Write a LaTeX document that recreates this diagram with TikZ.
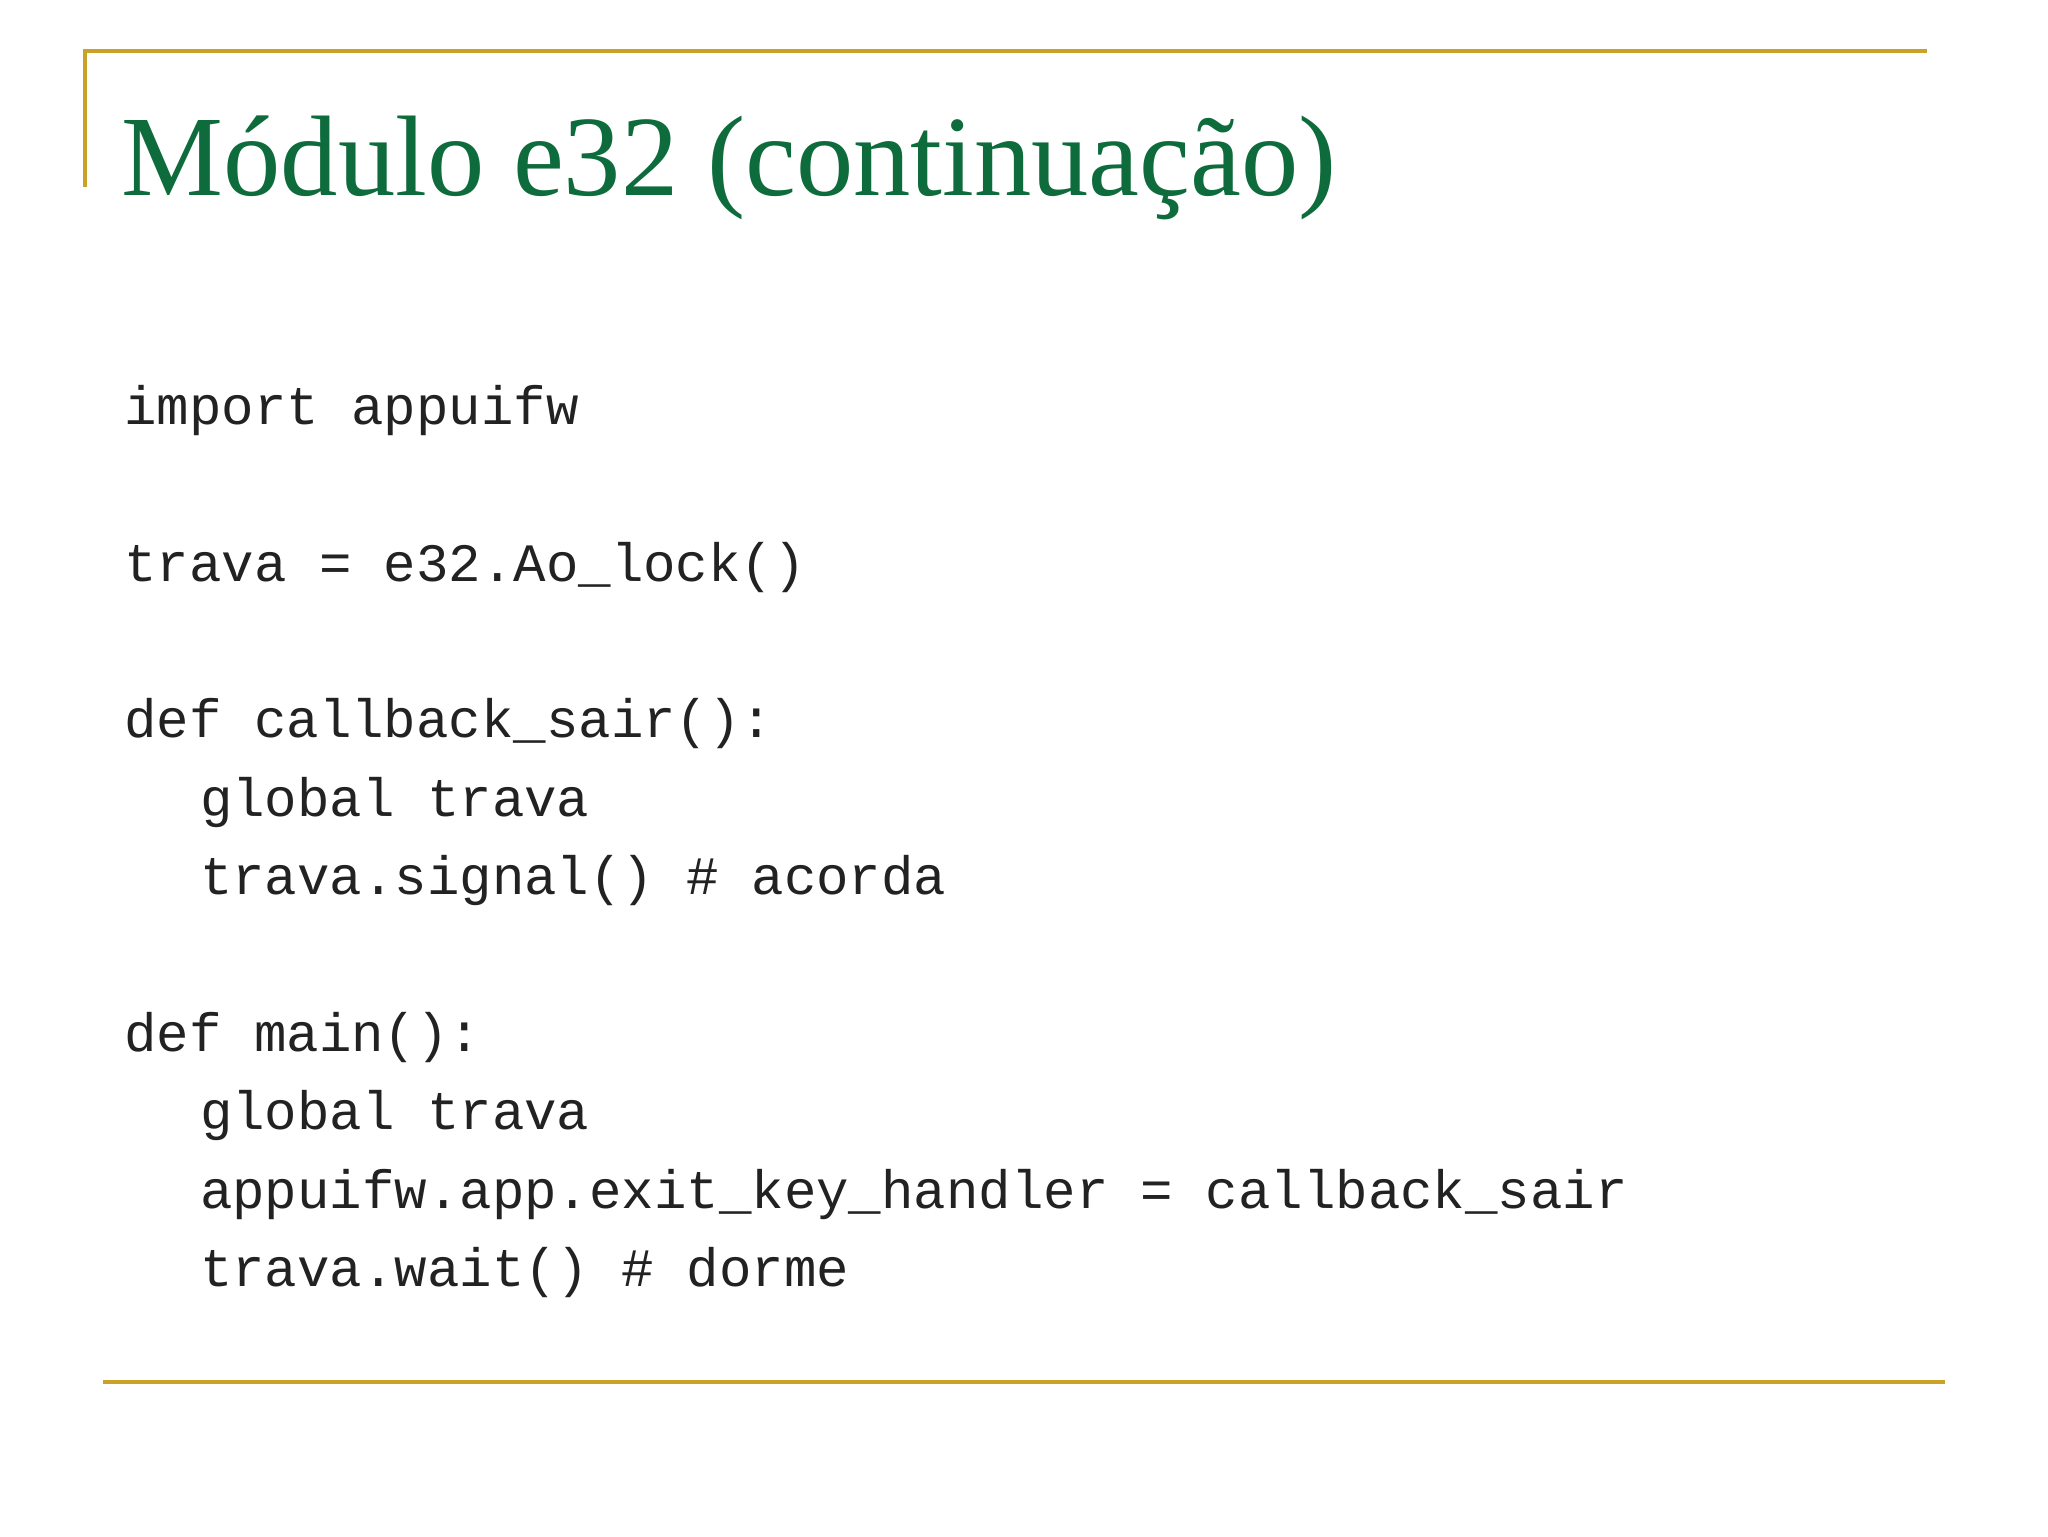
\documentclass[tikz,border=0pt]{standalone}
\usepackage{fontspec}
\setmainfont{Liberation Serif}
\setmonofont{Liberation Mono}
\definecolor{gold}{HTML}{C9A227}
\definecolor{titlegreen}{HTML}{0E6B3B}
\definecolor{codegray}{HTML}{222222}
\begin{document}
\begin{tikzpicture}[x=1pt,y=-1pt,
  code/.style={anchor=base west,inner sep=0pt,text=codegray,font=\fontsize{41.4}{41}\selectfont\ttfamily}]
\useasboundingbox[fill=white] (0,0) rectangle (1568,1176);
\draw[gold,line width=3pt] (65,143) -- (65,39) -- (1475,39);
\draw[gold,line width=3pt] (79,1058) -- (1489,1058);
\node[anchor=base west,inner sep=0pt,text=titlegreen,font=\fontsize{87.7}{88}\selectfont] (title) at (93,150) {Módulo e32 (continuação)};
\node[code] (l1) at (95,325) {import appuifw};
\node[code] (l2) at (95,445) {trava = e32.Ao\_lock()};
\node[code] (l3) at (95,565) {def callback\_sair():};
\node[code] (l4) at (153,625) {global trava};
\node[code] (l5) at (153,685) {trava.signal() \# acorda};
\node[code] (l6) at (95,805) {def main():};
\node[code] (l7) at (153,865) {global trava};
\node[code] (l8) at (153,925) {appuifw.app.exit\_key\_handler = callback\_sair};
\node[code] (l9) at (153,985) {trava.wait() \# dorme};
\end{tikzpicture}
\end{document}
